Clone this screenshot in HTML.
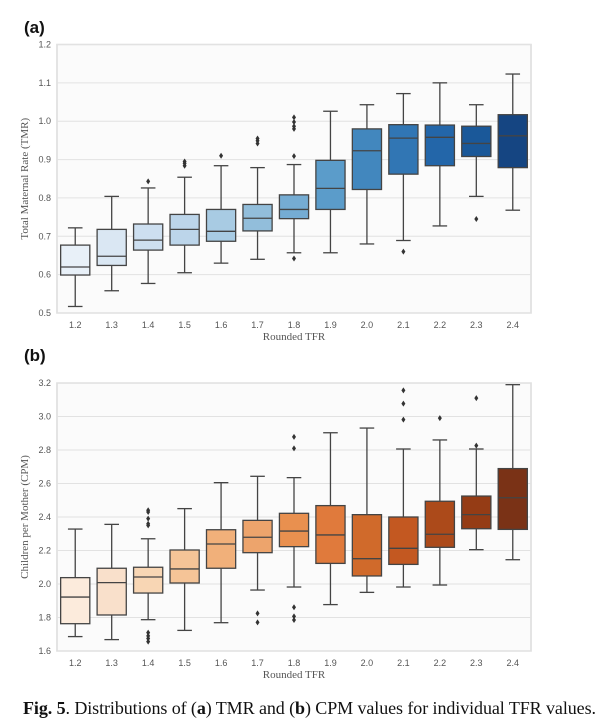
<!DOCTYPE html>
<html><head><meta charset="utf-8">
<style>
html,body{margin:0;padding:0;background:#fff;}
body{width:610px;height:728px;overflow:hidden;position:relative;}
svg{position:absolute;left:0;top:0;}
.tick{font-family:"Liberation Sans",sans-serif;font-size:9px;fill:#555;}
.ttl{font-family:"Liberation Serif",serif;font-size:11px;fill:#555;}
.pl{font-family:"Liberation Sans",sans-serif;font-size:17px;font-weight:bold;fill:#111;}
.cap{font-family:"Liberation Serif",serif;font-size:18px;fill:#111;}
</style></head>
<body>
<svg id="fig" width="610" height="728"></svg>
<script>
const categories=["1.2","1.3","1.4","1.5","1.6","1.7","1.8","1.9","2.0","2.1","2.2","2.3","2.4"];
// TMR panel (a)
const tmrLo=[0.517,0.558,0.577,0.605,0.63,0.64,0.657,0.657,0.68,0.689,0.727,0.804,0.768];
const tmrQ1=[0.599,0.624,0.664,0.677,0.687,0.714,0.746,0.77,0.822,0.862,0.884,0.908,0.879];
const tmrMed=[0.62,0.648,0.69,0.718,0.713,0.747,0.77,0.825,0.923,0.956,0.958,0.942,0.962];
const tmrQ3=[0.677,0.718,0.732,0.757,0.77,0.783,0.808,0.898,0.98,0.991,0.99,0.987,1.017];
const tmrHi=[0.722,0.804,0.826,0.854,0.884,0.879,0.887,1.026,1.043,1.072,1.1,1.043,1.123];
const tmrOut=[[],[],[0.843],[0.895,0.89,0.884],[0.91],[0.955,0.949,0.942],[1.01,0.998,0.987,0.98,0.909,0.642],[],[],[0.66],[],[0.745],[]];
const tmrTicks=["0.5","0.6","0.7","0.8","0.9","1.0","1.1","1.2"];
// CPM panel (b)
const cpmLo=[1.686,1.668,1.787,1.723,1.769,1.964,1.982,1.877,1.95,1.982,1.994,2.205,2.145];
const cpmQ1=[1.763,1.815,1.946,2.006,2.094,2.187,2.223,2.123,2.048,2.117,2.219,2.33,2.326];
const cpmMed=[1.922,2.008,2.042,2.09,2.239,2.279,2.316,2.293,2.151,2.213,2.297,2.414,2.515];
const cpmQ3=[2.038,2.094,2.1,2.203,2.324,2.38,2.422,2.468,2.414,2.4,2.494,2.525,2.689];
const cpmHi=[2.328,2.356,2.27,2.45,2.605,2.643,2.635,2.903,2.931,2.806,2.86,2.806,3.19];
const cpmOut=[[],[],[2.44,2.43,2.39,2.36,2.35,1.71,1.69,1.675,1.656],[],[],[1.825,1.771],[2.878,2.81,1.861,1.807,1.785],[],[],[3.156,3.077,2.981],[2.99],[3.11,2.826],[]];
const cpmTicks=["1.6","1.8","2.0","2.2","2.4","2.6","2.8","3.0","3.2"];
const blues=["#e8f0f8","#dae7f3","#cddff0","#bcd5ea","#a8cbe3","#92bedb","#75acd3","#5b9cca","#4287be","#3176b4","#2366a9","#1a5899","#154582"];
const oranges=["#fcebdc","#f9e0cb","#f8d6b4","#f5c497","#f1b07a","#eda46c","#e9904f","#e07a3c","#d06a2b","#c35821","#ac4a1a","#953c15","#7a3216"];

const NS="http://www.w3.org/2000/svg";
const svg=document.getElementById('fig');
function mk(tag,attrs,parent,text){const e=document.createElementNS(NS,tag);for(const k in attrs)e.setAttribute(k,attrs[k]);if(text!==undefined)e.textContent=text;(parent||svg).appendChild(e);return e;}

function panel(o){
  const g=mk('g',{});
  
  
  const L=57,R=531,T=o.top,B=o.bottom;
  const band=(R-L)/categories.length;
  const x=i=>L+band*(i+0.5);
  const y=v=>T+(o.max-v)/(o.max-o.min)*(B-T);
  const bg=mk('rect',{x:L,y:T,width:R-L,height:B-T,fill:'#fbfbfb',stroke:'#dcdcdc','stroke-width':1.5},g);
  
  
  o.ticks.forEach(t=>{
    const v=parseFloat(t);
    const gl=mk('line',{x1:L,x2:R,y1:y(v),y2:y(v),stroke:'#e2e2e2','stroke-width':1},g);
    
    
    const tl=mk('text',{x:L-6,y:y(v)+3,'text-anchor':'end',class:'tick'},g,t);
    
    
  });
  const w=band*0.8;
  categories.forEach((c,i)=>{
    const cx=x(i);
    const xl=mk('text',{x:cx,y:B+15,'text-anchor':'middle',class:'tick'},g,c);
    
    
    const bx=mk('g',{},g);
    
    
    const st={stroke:'#444','stroke-width':1.3};
    mk('line',Object.assign({x1:cx,x2:cx,y1:y(o.hi[i]),y2:y(o.q3[i])},st),bx);
    mk('line',Object.assign({x1:cx,x2:cx,y1:y(o.q1[i]),y2:y(o.lo[i])},st),bx);
    mk('line',Object.assign({x1:cx-w/4,x2:cx+w/4,y1:y(o.hi[i]),y2:y(o.hi[i])},st),bx);
    mk('line',Object.assign({x1:cx-w/4,x2:cx+w/4,y1:y(o.lo[i]),y2:y(o.lo[i])},st),bx);
    mk('rect',Object.assign({x:cx-w/2,y:y(o.q3[i]),width:w,height:y(o.q1[i])-y(o.q3[i]),fill:o.colors[i]},st),bx);
    mk('line',Object.assign({x1:cx-w/2,x2:cx+w/2,y1:y(o.med[i]),y2:y(o.med[i])},st),bx);
    o.out[i].forEach(v=>{
      const p=mk('path',{d:`M${cx} ${y(v)-3}L${cx+2} ${y(v)}L${cx} ${y(v)+3}L${cx-2} ${y(v)}Z`,fill:'#333'},bx);
      
      
    });
  });
  const xt=mk('text',{x:(L+R)/2,y:B+27,'text-anchor':'middle',class:'ttl'},g,'Rounded TFR');
  
  
  const cy=(T+B)/2;
  const yt=mk('text',{x:28,y:cy,'text-anchor':'middle',class:'ttl',transform:`rotate(-90 28 ${cy})`},g,o.ytitle);
  
  
  const pl=mk('text',{x:24,y:o.labelY,class:'pl'},g,o.label);
  
  
}
panel({name:'tmr-chart',top:44.5,bottom:313,min:0.5,max:1.2,ticks:tmrTicks,lo:tmrLo,q1:tmrQ1,med:tmrMed,q3:tmrQ3,hi:tmrHi,out:tmrOut,colors:blues,ytitle:'Total Maternal Rate (TMR)',label:'(a)',labelY:33});
panel({name:'cpm-chart',top:383,bottom:651,min:1.6,max:3.2,ticks:cpmTicks,lo:cpmLo,q1:cpmQ1,med:cpmMed,q3:cpmQ3,hi:cpmHi,out:cpmOut,colors:oranges,ytitle:'Children per Mother (CPM)',label:'(b)',labelY:361});
</script>
<svg width="610" height="728" style="pointer-events:none">
<text class="cap" x="23" y="714" textLength="573" lengthAdjust="spacing"><tspan font-weight="bold">Fig. 5</tspan>.  Distributions of (<tspan font-weight="bold">a</tspan>) TMR and (<tspan font-weight="bold">b</tspan>) CPM values for individual TFR values.</text>
</svg>
</body></html>
